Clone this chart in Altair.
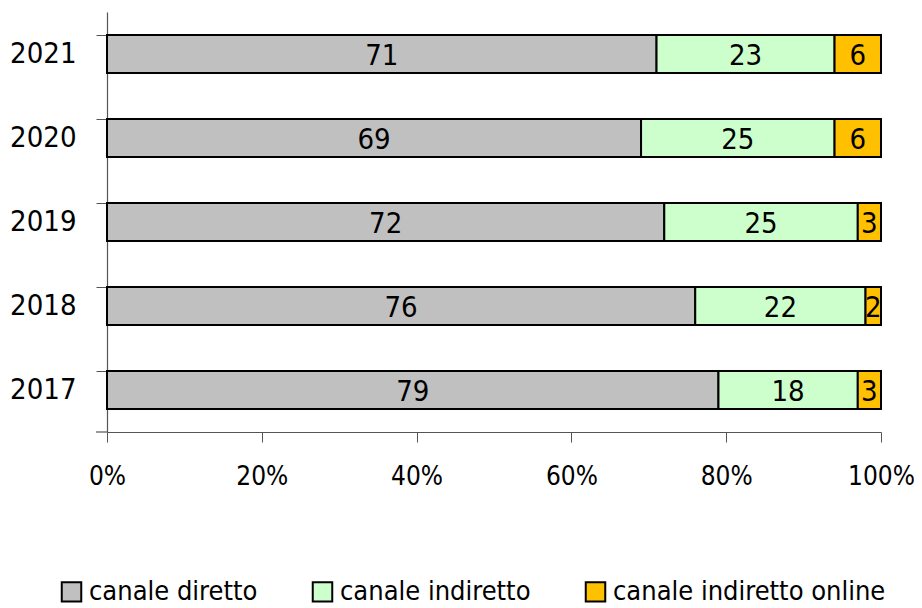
import altair as alt
import pandas as pd

years = ["2021", "2020", "2019", "2018", "2017"]
channels = ["canale diretto", "canale indiretto", "canale indiretto online"]
diretto = [71, 69, 72, 76, 79]
indiretto = [23, 25, 25, 22, 18]
online = [6, 6, 3, 2, 3]
colors = ["#C0C0C0", "#CCFFCC", "#FFC000"]
x_ticks = [0, 20, 40, 60, 80, 100]

rows = []
for i, y in enumerate(years):
    for k, (ch, vals) in enumerate(zip(channels, [diretto, indiretto, online])):
        rows.append({"anno": y, "canale": ch, "ord": k, "valore": vals[i]})
df = pd.DataFrame(rows)

FONT = "DejaVu Sans Condensed, Liberation Sans Narrow, sans-serif"

base = alt.Chart(df).transform_stack(
    stack="valore", groupby=["anno"], as_=["x0", "x1"],
    sort=[alt.SortField("ord", order="ascending")]
).transform_calculate(mid="(datum.x0 + datum.x1) / 2")

yenc = alt.Y("anno:N", sort=years, title=None,
             scale=alt.Scale(paddingInner=0.55, paddingOuter=0.275),
             axis=alt.Axis(labelFontSize=29, labelFont=FONT, labelColor="black",
                           labelPadding=20, domainColor="#555", tickColor="#555",
                           tickSize=11, bandPosition=0, domainWidth=1.2))

bars = base.mark_bar(stroke="black", strokeWidth=2).encode(
    x=alt.X("x0:Q", scale=alt.Scale(domain=[0, 100], nice=False), title=None,
            axis=alt.Axis(values=x_ticks, labelExpr="datum.value + '%'",
                          labelFontSize=26, labelFont=FONT, labelColor="black",
                          labelFlush=False, labelOverlap=False,
                          labelPadding=21, grid=False, domainColor="#555",
                          tickColor="#555", tickSize=10, domainWidth=1.2)),
    x2="x1:Q",
    y=yenc,
    color=alt.Color("canale:N", sort=channels,
                    scale=alt.Scale(domain=channels, range=colors),
                    legend=alt.Legend(title=None, orient="none", direction="horizontal",
                                      legendX=-49, legendY=566,
                                      symbolType="square", symbolSize=380,
                                      symbolStrokeColor="black", symbolStrokeWidth=2,
                                      symbolOpacity=1,
                                      labelFontSize=27, labelFont=FONT, labelColor="black",
                                      labelOffset=4, columnPadding=50, labelLimit=400)),
)

labels = base.mark_text(fontSize=29, font=FONT, color="black", baseline="middle", dy=2).encode(
    x=alt.X("mid:Q"),
    y=alt.Y("anno:N", sort=years),
    text=alt.Text("valore:Q"),
)

# closing tick at the bottom of the category axis
end_tick = alt.Chart(pd.DataFrame({"t": [0]})).mark_rule(color="#555", strokeWidth=1.2).encode(
    x=alt.value(-11), x2=alt.value(0), y=alt.value(420)
)

chart = (bars + labels + end_tick).properties(
    width=774, height=420,
    autosize=alt.AutoSizeParams(type="none"),
    padding={"left": 99, "top": 4, "right": 33, "bottom": 180},
).configure_view(strokeWidth=0)

chart.save("out.html", embed_options={"renderer": "svg", "actions": False})
